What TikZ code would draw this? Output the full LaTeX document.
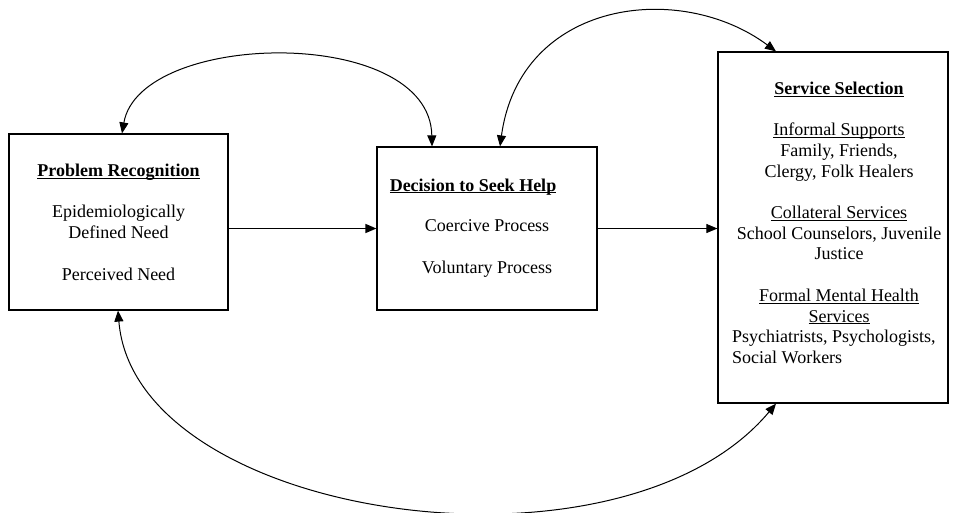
\documentclass[tikz,border=0pt]{standalone}
\usepackage{fontspec}
\setmainfont{Liberation Serif}
\usetikzlibrary{arrows.meta}

\newsavebox{\ulbox}
\newcommand{\ulined}[1]{\sbox\ulbox{#1}\rlap{\rule[-2.2pt]{\wd\ulbox}{0.8pt}}\usebox\ulbox}

\tikzset{
  stagebox/.style={draw, line width=1.2pt, inner sep=0pt},
  boxtext/.style={align=center, inner sep=0pt, anchor=base, font=\fontsize{18}{20.7}\selectfont},
  link/.style={line width=1pt, -{Triangle[length=11pt,width=9pt]}},
  twoway/.style={line width=1pt, {Triangle[length=11pt,width=9pt]}-{Triangle[length=11pt,width=9pt]}},
}

\begin{document}
\begin{tikzpicture}[x=1pt,y=-1pt]
    \useasboundingbox (0,0) rectangle (955,512);
    % Stages
    \node[stagebox, minimum width=219pt, minimum height=176pt] (recog) at (118.5,222) {};
    \node[stagebox, minimum width=220pt, minimum height=163pt] (decide) at (487,228.5) {};
    \node[stagebox, minimum width=230pt, minimum height=351pt] (select) at (833,227.5) {};
    % Texts (base = last line)
    \node[boxtext] (recogtxt) at (118.5,280) {\textbf{\ulined{Problem Recognition}}\\[20.7pt] Epidemiologically\\ Defined Need\\[20.7pt] Perceived Need};
    \node[boxtext] (decidetitle) at (473,191) {\textbf{\ulined{Decision to Seek Help}}};
    \node[boxtext] (decidetxt) at (487,273) {Coercive Process\\[20.7pt] Voluntary Process};
    \node[boxtext] (selecttxt) at (839,322) {\textbf{\ulined{Service Selection}}\\[20.7pt] \ulined{Informal Supports}\\ Family, Friends,\\ Clergy, Folk Healers\\[20.7pt] \ulined{Collateral Services}\\ School Counselors, Juvenile\\ Justice\\[20.7pt] \ulined{Formal Mental Health}\\ \ulined{Services}};
    \node[boxtext, align=left, anchor=base west] (formaltxt) at (732,363) {Psychiatrists, Psychologists,\\ Social Workers};
    % Straight links
    \draw[link, line width=1.5pt] (recog.east |- decide.west) -- (decide.west);
    \draw[link] (decide.east) -- (decide.east -| select.west);
    % Feedback loops
    \draw[twoway] ([xshift=3.5pt]recog.north) .. controls (140,30) and (430,25) .. ([xshift=-55pt]decide.north);
    \draw[twoway] ([xshift=13pt]decide.north) .. controls (520,0) and (680,-20) .. ([xshift=-57pt]select.north);
    \draw[twoway] ([xshift=-0.5pt]recog.south) .. controls (135,520) and (620,590) .. ([xshift=-57pt]select.south);
\end{tikzpicture}
\end{document}
